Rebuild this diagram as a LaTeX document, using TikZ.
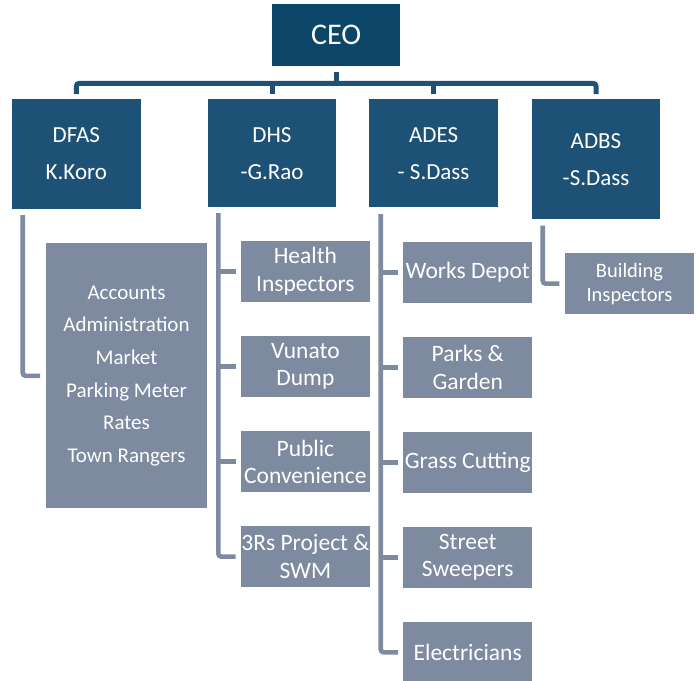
\documentclass[tikz,border=0pt]{standalone}
\usepackage{fontspec}
\setmainfont{Carlito}
\definecolor{ceoblue}{HTML}{0B4668}
\definecolor{midblue}{HTML}{1D5276}
\definecolor{slate}{HTML}{7D8A9F}
\begin{document}
\begin{tikzpicture}[x=1pt,y=-1pt,
  box/.style={rectangle, inner sep=0pt, outer sep=0pt, anchor=north west, text=white, align=center},
  ceobox/.style={box, fill=ceoblue, minimum width=128.3pt, minimum height=61.4pt, font=\fontsize{30}{36}\selectfont},
  headbox/.style={box, fill=midblue, minimum width=128.6pt, font=\fontsize{23}{37}\selectfont},
  bigbox/.style={box, fill=slate, minimum width=161.6pt, minimum height=265pt, font=\fontsize{21}{32.6}\selectfont},
  unitbox/.style={box, fill=slate, minimum width=128.8pt, minimum height=61.2pt, font=\fontsize{23.5}{27.3}\selectfont},
  smallunit/.style={box, fill=slate, minimum width=129pt, minimum height=60.7pt, font=\fontsize{20.5}{24}\selectfont},
  darkline/.style={draw=midblue, line width=5pt, rounded corners=3pt},
  gline/.style={draw=slate, line width=4.6pt, rounded corners=3pt}]
\path[use as bounding box] (0,0) rectangle (700,680);
\clip (0,0) rectangle (700,680);

% top level
\node[ceobox] (ceo) at (272,4.3) {CEO};

% second level
\node[headbox, minimum height=109.4pt] (dfas) at (12,99.3) {DFAS\\K.Koro};
\node[headbox, minimum height=107.9pt] (dhs) at (207.7,99.3) {DHS\\-G.Rao};
\node[headbox, minimum height=108pt] (ades) at (369.3,99.3) {ADES\\- S.Dass};
\node[headbox, minimum height=119.7pt] (adbs) at (531.7,99.3) {ADBS\\-S.Dass};

% DFAS unit
\node[bigbox] (acc) at (45.7,243.3) {Accounts\\Administration\\Market\\Parking Meter\\Rates\\Town Rangers};

% DHS units
\node[unitbox] (h1) at (241,240.7) {Health\\Inspectors};
\node[unitbox] (h2) at (241,335.9) {Vunato\\Dump};
\node[unitbox] (h3) at (241,431) {Public\\Convenience};
\node[unitbox] (h4) at (241,526) {3Rs Project \&\\SWM};

% ADES units
\node[unitbox] (e1) at (403.3,241.7) {Works Depot};
\node[unitbox] (e2) at (403.3,336.7) {Parks \&\\Garden};
\node[unitbox] (e3) at (403.3,431.7) {Grass Cutting};
\node[unitbox] (e4) at (403.3,526.7) {Street\\Sweepers};
\node[unitbox] (e5) at (403.3,621.7) {Electricians};

% ADBS unit
\node[smallunit] (bi) at (565,253.3) {Building\\Inspectors};

% top connectors
\coordinate (bus) at (0,83.3);
\draw[darkline] ([yshift=-6pt]ceo.south) -- (ceo.south |- bus);
\draw[darkline] ([yshift=5.3pt]dfas.north) -- (dfas.north |- bus) -- (adbs.north |- bus) -- ([yshift=5.3pt]adbs.north);
\draw[darkline] (dhs.north |- bus) -- ([yshift=5.3pt]dhs.north);
\draw[darkline] (ades.north |- bus) -- ([yshift=5.3pt]ades.north);

% DFAS connector
\draw[gline] ([xshift=10.7pt,yshift=-6.3pt]dfas.south west) |- ([xshift=-5.7pt]acc.west);

% DHS connectors
\coordinate (dv) at ([xshift=10.6pt,yshift=-6pt]dhs.south west);
\draw[gline] (dv) |- ([xshift=-5.3pt]h4.west);
\foreach \n in {h1,h2,h3} \draw[gline] (dv |- \n.west) -- ([xshift=-5.3pt]\n.west);

% ADES connectors
\coordinate (ev) at ([xshift=11.4pt,yshift=-6.7pt]ades.south west);
\draw[gline] (ev) |- ([xshift=-5.3pt]e5.west);
\foreach \n in {e1,e2,e3,e4} \draw[gline] (ev |- \n.west) -- ([xshift=-5.3pt]\n.west);

% ADBS connector
\draw[gline] ([xshift=11pt,yshift=-6.5pt]adbs.south west) |- ([xshift=-5.7pt]bi.west);
\end{tikzpicture}
\end{document}
